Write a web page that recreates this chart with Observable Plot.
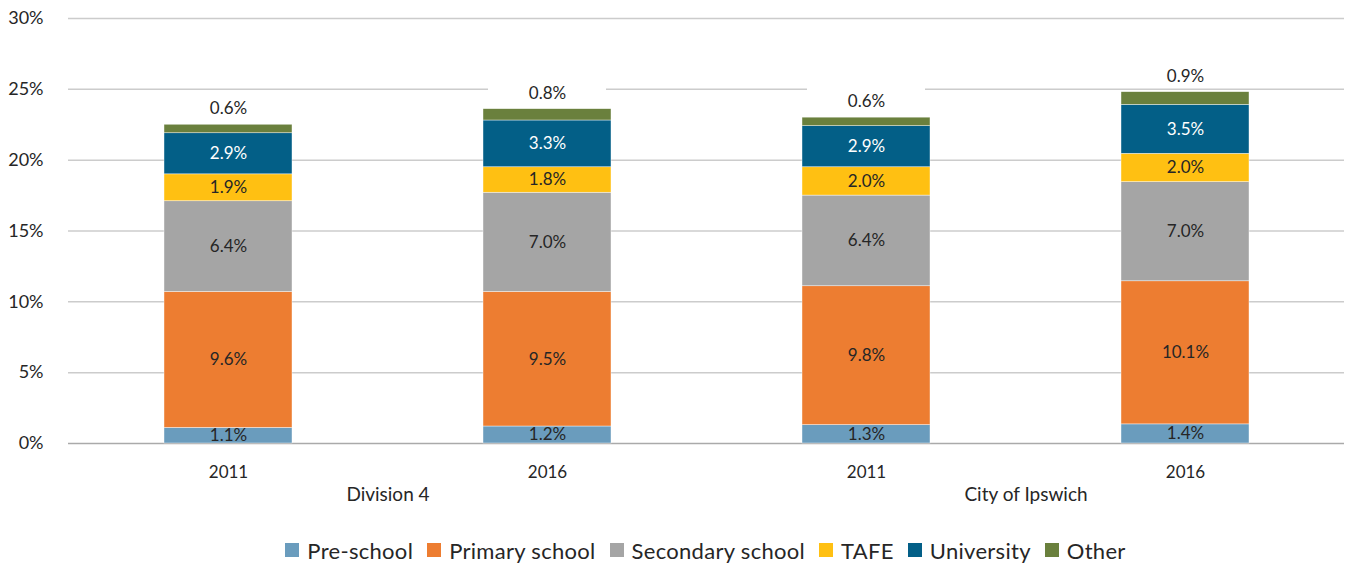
<!DOCTYPE html>
<html>
<head>
<meta charset="utf-8">
<script src="https://cdn.jsdelivr.net/npm/d3@7"></script>
<script src="https://cdn.jsdelivr.net/npm/@observablehq/plot@0.6"></script>
<style>
  body { margin: 0; background: #fff; font-family: Lato, "Open Sans", sans-serif; }
  #chart svg { display: block; }
  .legend { display: flex; justify-content: center; align-items: center; font-size: 22px; letter-spacing: 0.3px; color: #262626; height: 30px; margin-top: 10px; padding-left: 64px; }
  .legend span.item { display: inline-flex; align-items: center; margin: 0 7px; }
  .legend span.sw { width: 14px; height: 14px; display: inline-block; margin-right: 8px; }
</style>
</head>
<body>
<div id="chart"></div>
<div class="legend" id="legend"></div>
<script>
const groups = ["Division 4", "Division 4", "City of Ipswich", "City of Ipswich"];
const years = ["2011", "2016", "2011", "2016"];
const categories = ["Pre-school", "Primary school", "Secondary school", "TAFE", "University", "Other"];
const colors = ["#6a9cbd", "#ed7d31", "#a5a5a5", "#ffc012", "#035f87", "#6a803d"];
const labelColors = ["#262626", "#262626", "#262626", "#262626", "#fff", "#262626"];
const preSchool = [1.1, 1.2, 1.3, 1.35];
const primarySchool = [9.6, 9.5, 9.8, 10.1];
const secondarySchool = [6.4, 7.0, 6.4, 7.0];
const tafe = [1.9, 1.8, 2.0, 2.0];
const university = [2.9, 3.3, 2.9, 3.45];
const other = [0.6, 0.8, 0.6, 0.9];
const yTicks = [0, 5, 10, 15, 20, 25, 30];

const series = [preSchool, primarySchool, secondarySchool, tafe, university, other];
const keys = groups.map((g, i) => g + "|" + years[i]);
const fmt = d3.format(".1f");

const rows = [];
keys.forEach((k, i) => {
  let base = 0;
  categories.forEach((c, j) => {
    const v = series[j][i];
    rows.push({key: k, cat: c, value: v, y1: base, y2: base + v, mid: base + v / 2, ci: j});
    base += v;
  });
});
const segLabels = rows.filter(r => r.cat !== "Other");
const topLabels = rows.filter(r => r.cat === "Other");
const groupLabels = [
  {group: "Division 4", k2: keys[1]},
  {group: "City of Ipswich", k2: keys[3]}
];

const chart = Plot.plot({
  width: 1347,
  height: 525,
  marginLeft: 68,
  marginRight: 3,
  marginTop: 18,
  marginBottom: 82,
  style: {fontFamily: "Lato, 'Open Sans', sans-serif", fontSize: "17px", color: "#262626", background: "#fff"},
  x: {domain: keys, paddingInner: 0.6, paddingOuter: 0.3, axis: null},
  y: {domain: [0, 30], axis: null},
  color: {domain: categories, range: colors},
  marks: [
    Plot.ruleY(yTicks.filter(t => t > 0), {stroke: "#cccccc", strokeWidth: 1.5}),
    Plot.ruleY([0], {stroke: "#aaaaaa", strokeWidth: 1.5}),
    Plot.text(yTicks, {y: d => d, text: d => d + "%", frameAnchor: "left", textAnchor: "end", dx: -25, fill: "#262626", fontSize: 18}),
    Plot.rect(topLabels, {x: "key", y1: "y2", y2: "y2", fill: "#fff", insetTop: -30, insetBottom: 4, insetLeft: 5, insetRight: 5}),
    Plot.rectY(rows, {x: "key", y1: "y1", y2: "y2", fill: "cat", stroke: "#fff", strokeWidth: 0.6, strokeOpacity: 0.7}),
    Plot.text(segLabels, {x: "key", y: "mid", text: d => fmt(d.value) + "%", fill: d => labelColors[d.ci], fontSize: 17}),
    Plot.text(topLabels, {x: "key", y: "y2", text: d => fmt(d.value) + "%", fill: "#262626", dy: -16, fontSize: 17}),
    Plot.text(keys, {x: d => d, y: 0, text: d => d.split("|")[1], dy: 29, fill: "#262626", fontSize: 17}),
    Plot.text(groupLabels, {x: "k2", y: 0, text: "group", dy: 51, dx: -159.5, fill: "#262626", fontSize: 19})
  ]
});
document.getElementById("chart").appendChild(chart);

const lg = document.getElementById("legend");
categories.forEach((c, i) => {
  const it = document.createElement("span");
  it.className = "item";
  it.innerHTML = `<span class="sw" style="background:${colors[i]}"></span>${c}`;
  lg.appendChild(it);
});
</script>
</body>
</html>
